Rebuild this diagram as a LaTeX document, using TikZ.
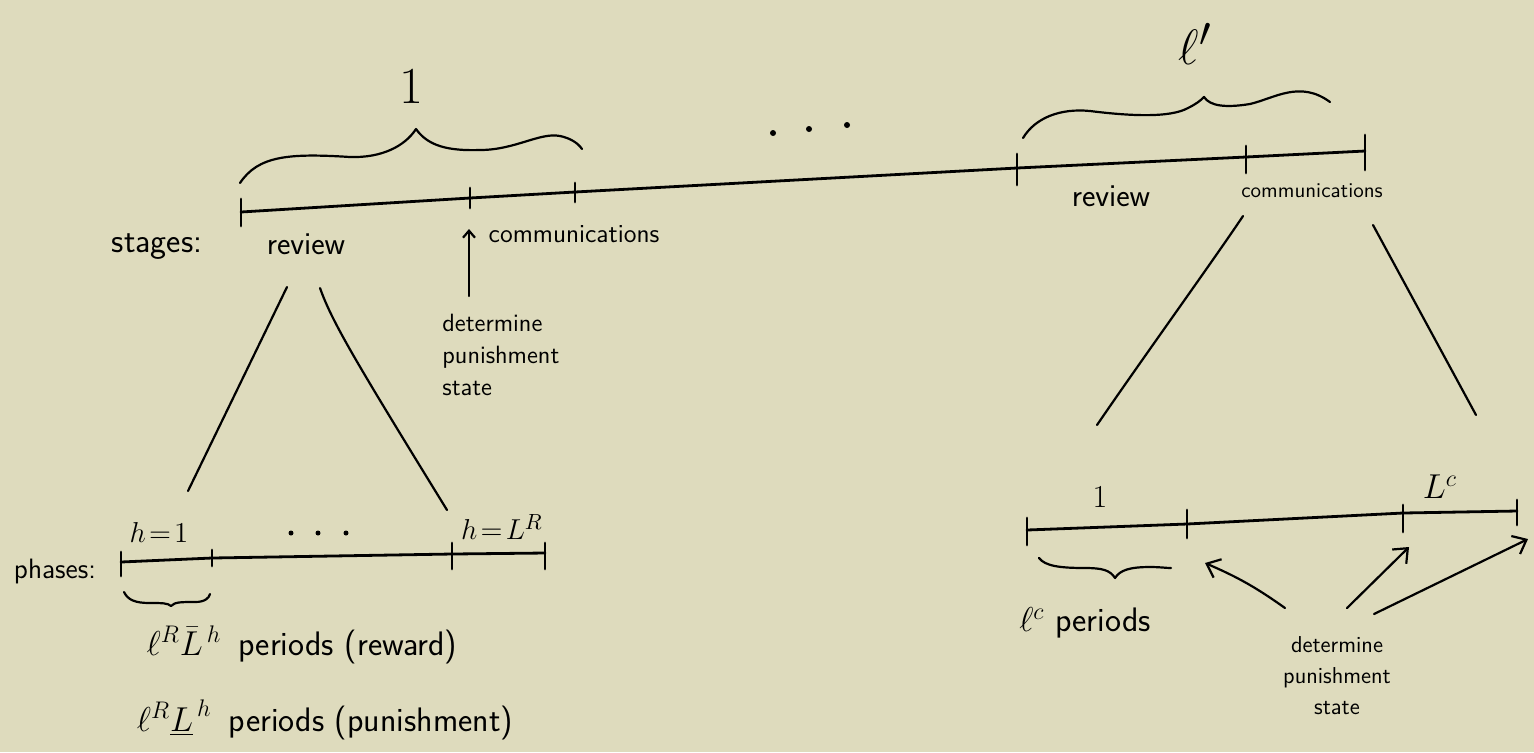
\documentclass[tikz,border=0pt]{standalone}
\usepackage{fontspec}
\usetikzlibrary{arrows.meta}
\definecolor{paper}{RGB}{222,219,189}
\tikzset{
  ink/.style={line width=1.4pt, line cap=round, line join=round},
  thinink/.style={line width=1.1pt, line cap=round, line join=round},
  lbl/.style={inner sep=0pt, font=\sffamily\fontsize{#1}{#1}\selectfont},
  lbl/.default=15,
  harrow/.style={thinink, -{Straight Barb[length=6pt,width=10pt,line width=1.1pt]}},
  smallarrow/.style={thinink, -{Straight Barb[length=3.5pt,width=6pt,line width=1.1pt]}},
  dotmark/.style={fill=black},
}
\begin{document}
\begin{tikzpicture}[x=0.5pt,y=-0.5pt]
\fill[paper] (0,0) rectangle (1534,752);
\useasboundingbox (0,0) rectangle (1534,752);

% ---------- main timeline ----------
\coordinate (a0) at (241,212);
\coordinate (a1) at (470,198);
\coordinate (a2) at (575,192);
\coordinate (a3) at (1017,168);
\coordinate (a4) at (1246,157);
\coordinate (a5) at (1365,151);
\draw[ink] (a0) -- (a1) -- (a2) -- (a3) -- (a4) -- (a5);
\draw[ink] (a0) ++(0,-13) -- ++(0,27);
\draw[ink] (a1) ++(0,-10) -- ++(0,20);
\draw[ink] (a2) ++(0,-9) -- ++(0,19);
\draw[ink] (a3) ++(0,-14) -- ++(0,31);
\draw[ink] (a4) ++(0,-11) -- ++(0,27);
\draw[ink] (a5) ++(0,-16) -- ++(0,35);

% brace "1"
\coordinate (b1s) at (240,183);
\coordinate (b1t) at (416,129);
\coordinate (b1e) at (582,149);
\draw[thinink] (b1s) .. controls (258,156) and (288,153) .. (350,157)
  .. controls (382,158) and (405,146) .. (b1t)
  .. controls (428,146) and (448,151) .. (480,150)
  .. controls (515,150) and (540,132) .. (560,136)
  .. controls (570,138) and (578,143) .. (b1e);
\node[inner sep=0pt, font=\fontsize{26}{26}\selectfont] (one) at (411,86) {1};

% brace "l'"
\coordinate (b2s) at (1023,138);
\coordinate (b2t) at (1204,97);
\coordinate (b2e) at (1330,102);
\draw[thinink] (b2s) .. controls (1035,118) and (1060,108) .. (1090,111)
  .. controls (1130,116) and (1170,118) .. (1188,108)
  .. controls (1196,104) and (1200,101) .. (b2t)
  .. controls (1210,106) and (1225,108) .. (1250,104)
  .. controls (1275,98) and (1300,80) .. (b2e);
\node[inner sep=0pt, font=\fontsize{30}{30}\selectfont] (lp) at (1195,44) {$\ell'$};

% dots between
\fill[dotmark] (773,133) circle[radius=3];
\fill[dotmark] (809,129) circle[radius=3];
\fill[dotmark] (847,125) circle[radius=3];

% stage labels
\node[lbl=17] (stages) at (157,247) {stages:};
\node[lbl=16] (revL) at (306,244) {review};
\node[lbl=13] (comL) at (574,234) {communications};
\node[lbl=16] (revR) at (1111,196) {review};
\node[lbl=10.5] (comR) at (1312,191) {communications};

% determine punishment state (left)
\node[anchor=north west, align=left, inner sep=0pt, font=\sffamily\fontsize{12.5}{16}\selectfont] (detL) at (442,314) {determine\\punishment\\state};
\coordinate (upT) at (469,296);
\coordinate (upH) at (469,229);
\draw[smallarrow] (upT) -- (upH);

% ---------- left phases ----------
\coordinate (l1t) at (287,287);
\coordinate (l1b) at (188,491);
\coordinate (l2t) at (320,288);
\coordinate (l2b) at (447,510);
\draw[thinink] (l1t) -- (l1b);
\draw[thinink] (l2t) .. controls (332,322) and (356,362) .. (l2b);

\coordinate (p0) at (121,562);
\coordinate (p1) at (212,558);
\coordinate (p2) at (452,554);
\coordinate (p3) at (545,553);
\draw[ink] (p0) -- (p1) -- (p2) -- (p3);
\draw[ink] (p0) ++(0,-10) -- ++(0,24);
\draw[ink] (p1) ++(0,-8) -- ++(0,16);
\draw[ink] (p2) ++(0,-11) -- ++(0,26);
\draw[ink] (p3) ++(0,-10) -- ++(0,26);

\node[lbl=14] (phases) at (55,571) {phases:};
\node[inner sep=0pt, font=\fontsize{15}{15}\selectfont] (h1) at (159,532) {$h\!=\!1$};
\fill[dotmark] (291,533) circle[radius=2.5];
\fill[dotmark] (318,533) circle[radius=2.5];
\fill[dotmark] (346,533) circle[radius=2.5];
\node[inner sep=0pt, font=\fontsize{15}{15}\selectfont] (hLR) at (502,527) {$h\!=\!L^R$};

% brace under h=1
\coordinate (b3s) at (124,592);
\coordinate (b3t) at (171,606);
\coordinate (b3e) at (210,594);
\draw[thinink] (b3s) .. controls (128,600) and (135,603) .. (150,603)
  .. controls (162,603) and (168,603) .. (b3t)
  .. controls (175,602) and (180,602) .. (195,602)
  .. controls (205,602) and (209,598) .. (b3e);

\node[lbl=17] (rew) at (302,645) {$\ell^R\bar{L}^{\,h}$\enspace periods (reward)};
\node[lbl=17] (pun) at (325,720) {$\ell^R\underline{L}^{\,h}$\enspace periods (punishment)};

% ---------- right phases ----------
\coordinate (r1t) at (1243,216);
\coordinate (r1b) at (1097,425);
\coordinate (r2t) at (1373,225);
\coordinate (r2b) at (1476,415);
\draw[thinink] (r1t) .. controls (1215,258) and (1140,362) .. (r1b);
\draw[thinink] (r2t) -- (r2b);

\coordinate (q0) at (1027,530);
\coordinate (q1) at (1187,524);
\coordinate (q2) at (1403,513);
\coordinate (q3) at (1517,511);
\draw[ink] (q0) -- (q1) -- (q2) -- (q3);
\draw[ink] (q0) ++(0,-12) -- ++(0,27);
\draw[ink] (q1) ++(0,-14) -- ++(0,28);
\draw[ink] (q2) ++(0,-8) -- ++(0,27);
\draw[ink] (q3) ++(0,-11) -- ++(0,25);

\node[inner sep=0pt, font=\fontsize{16}{16}\selectfont] (oneR) at (1100,497) {1};
\node[inner sep=0pt, font=\fontsize{17}{17}\selectfont] (LC) at (1440,487) {$L^c$};

% brace under first phase
\coordinate (b4s) at (1039,558);
\coordinate (b4t) at (1115,578);
\coordinate (b4e) at (1171,568);
\draw[thinink] (b4s) .. controls (1045,566) and (1060,568) .. (1085,568)
  .. controls (1102,568) and (1110,570) .. (b4t)
  .. controls (1120,570) and (1130,567) .. (1150,567)
  .. controls (1160,567) and (1166,568) .. (b4e);

\node[lbl=17] (lc) at (1085,623) {$\ell^c$ periods};

\node[align=center, inner sep=0pt, font=\sffamily\fontsize{11.5}{15.5}\selectfont] (detR) at (1337,676) {determine\\punishment\\state};
\coordinate (t1) at (1285,608);
\coordinate (h1r) at (1205,563);
\coordinate (t2) at (1347,608);
\coordinate (h2r) at (1409,547);
\coordinate (t3) at (1374,614);
\coordinate (h3r) at (1528,539);
\draw[harrow] (t1) to[bend right=6] (h1r);
\draw[harrow] (t2) -- (h2r);
\draw[harrow] (t3) -- (h3r);

\end{tikzpicture}
\end{document}
